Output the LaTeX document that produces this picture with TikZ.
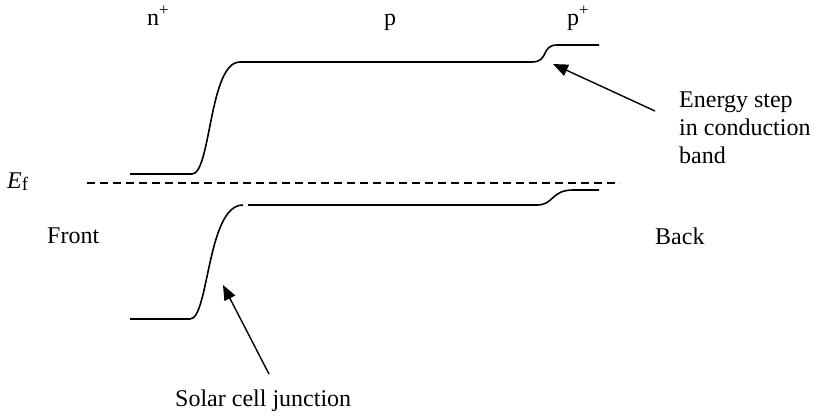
\documentclass[tikz,border=0pt]{standalone}
\usepackage{fontspec}
\setmainfont{Liberation Serif}
\usetikzlibrary{arrows.meta}
\begin{document}
\begin{tikzpicture}[x=1pt,y=-1pt,
  band/.style={line width=1.6pt},
  lbl/.style={font=\fontsize{24}{28}\selectfont, inner sep=0pt, anchor=base west},
  ptr/.style={line width=1.4pt,-{Triangle[length=15pt,width=12pt]}}]
\useasboundingbox (0,0) rectangle (814,416);
% conduction band
\draw[band] (130,174) -- (192,174) .. controls (211,174) and (209,62) .. (240,62)
  -- (532,62) .. controls (549,62) and (541,45) .. (557,45) -- (599,45);
% valence band
\draw[band] (130,319) -- (190,319) .. controls (209,319) and (207,205) .. (243,205);
\draw[band] (248,205) -- (537,205) .. controls (554,205) and (551,190) .. (573,190) -- (599,190);
% Fermi level
\draw[line width=1.3pt, dash pattern=on 8pt off 5pt] (87,183) -- (620,183);
% labels
\node[lbl] (nplus) at (147,25) {n\textsuperscript{+}};
\node[lbl] (p) at (384,25) {p};
\node[lbl] (pplus) at (567,25) {p\textsuperscript{+}};
\node[lbl] (ef) at (7,188) {\textit{E}\raisebox{-0.12em}{\fontsize{19}{22}\selectfont f}};
\node[lbl] (front) at (47,243) {Front};
\node[lbl] (back) at (655,244) {Back};
\node[lbl] (estep1) at (679,107) {Energy step};
\node[lbl] (estep2) at (679,135) {in conduction};
\node[lbl] (estep3) at (679,163) {band};
\node[lbl] (junc) at (175,406) {Solar cell junction};
% pointers
\coordinate (t1) at (655,111);
\coordinate (h1) at (553,64);
\coordinate (t2) at (269,374);
\coordinate (h2) at (223,285);
\draw[ptr] (t1) -- (h1);
\draw[ptr] (t2) -- (h2);
\end{tikzpicture}
\end{document}
